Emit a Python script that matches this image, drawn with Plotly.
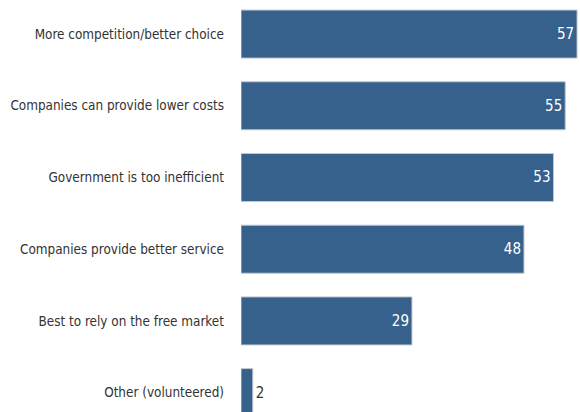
import plotly.graph_objects as go

categories = [
    "More competition/better choice",
    "Companies can provide lower costs",
    "Government is too inefficient",
    "Companies provide better service",
    "Best to rely on the free market",
    "Other (volunteered)",
]
values = [57, 55, 53, 48, 29, 2]

FONT = "DejaVu Sans Condensed, Liberation Sans Narrow, Arial Narrow, sans-serif"
positions = ["inside" if v > 5 else "outside" for v in values]

fig = go.Figure(
    go.Bar(
        x=values,
        y=list(range(len(categories))),
        orientation="h",
        marker=dict(color="#36618c", line=dict(color="#c4c8cc", width=1)),
        width=0.67,
        text=[str(v) for v in values],
        textposition=positions,
        insidetextanchor="end",
        insidetextfont=dict(color="white", size=15, family=FONT),
        outsidetextfont=dict(color="#333333", size=15, family=FONT),
        cliponaxis=False,
        hoverinfo="skip",
    )
)

fig.update_layout(
    width=580,
    height=412,
    margin=dict(l=241, r=0, t=0, b=0, autoexpand=False),
    paper_bgcolor="white",
    plot_bgcolor="white",
    showlegend=False,
    font=dict(family=FONT, size=13.4, color="#333333"),
    xaxis=dict(range=[0, 57.5], visible=False, fixedrange=True),
    yaxis=dict(
        range=[5.27, -0.475],
        tickmode="array",
        tickvals=list(range(len(categories))),
        ticktext=categories,
        showgrid=False,
        zeroline=False,
        showline=False,
        ticks="",
        automargin=False,
        fixedrange=True,
        ticklabelstandoff=16,
        tickfont=dict(family=FONT, size=13.4, color="#333333"),
    ),
)

fig.write_html(
    "out.html",
    config={"displayModeBar": False, "staticPlot": True},
    post_script="document.body.style.margin='0';document.body.style.overflow='hidden';",
)
